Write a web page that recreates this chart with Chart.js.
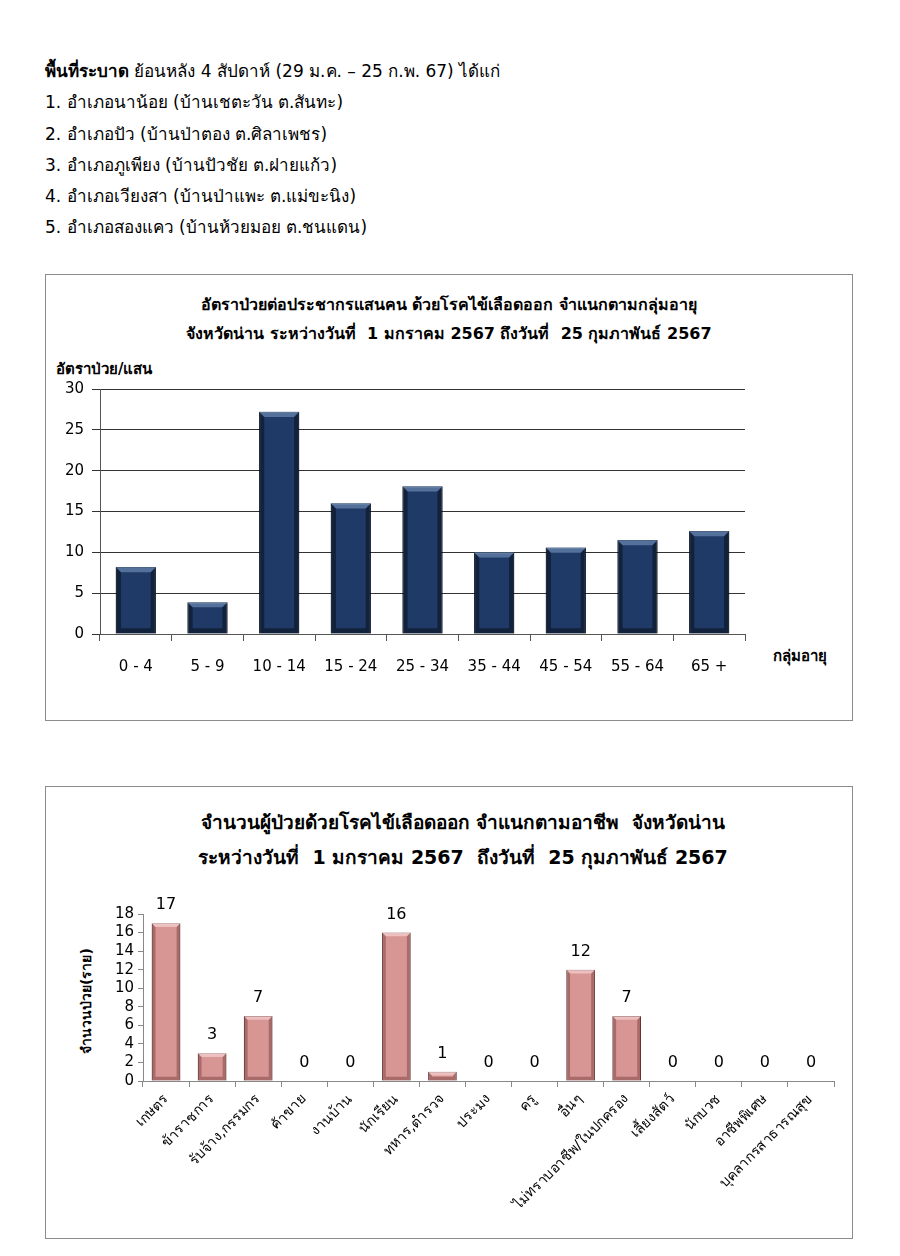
<!DOCTYPE html>
<html>
<head>
<meta charset="utf-8">
<script src="https://cdn.jsdelivr.net/npm/chart.js@4/dist/chart.umd.min.js"></script>
<style>
  body { margin: 0; background: #fff; font-family: Tahoma, "DejaVu Sans", sans-serif; color: #000; }
  .page { position: relative; width: 900px; height: 1256px; }
  .intro { position: absolute; left: 45px; top: 56px; font-size: 17px; line-height: 31.3px; }
  .box { position: absolute; left: 45px; width: 806px; border: 1px solid #8c8c8c; }
  .title { position: absolute; left: 0; width: 100%; text-align: center; font-weight: bold; }
  .lbl { position: absolute; font-weight: bold; white-space: nowrap; }
  canvas { position: absolute; }
</style>
</head>
<body>
<div class="page">
  <div class="intro">
    <div><b>พื้นที่ระบาด</b> ย้อนหลัง 4 สัปดาห์ (29 ม.ค. – 25 ก.พ. 67) ได้แก่</div>
    <div>1. อำเภอนาน้อย (บ้านเชตะวัน ต.สันทะ)</div>
    <div>2. อำเภอปัว (บ้านป่าตอง ต.ศิลาเพชร)</div>
    <div>3. อำเภอภูเพียง (บ้านปัวชัย ต.ฝายแก้ว)</div>
    <div>4. อำเภอเวียงสา (บ้านป่าแพะ ต.แม่ขะนิง)</div>
    <div>5. อำเภอสองแคว (บ้านห้วยมอย ต.ชนแดน)</div>
  </div>

  <div class="box" style="top:274px;height:445px;">
    <div class="title" style="top:15px;font-size:16px;line-height:29px;">
      อัตราป่วยต่อประชากรแสนคน ด้วยโรคไข้เลือดออก จำแนกตามกลุ่มอายุ<br>
      จังหวัดน่าน ระหว่างวันที่&nbsp; 1 มกราคม 2567 ถึงวันที่&nbsp; 25 กุมภาพันธ์ 2567
    </div>
    <div class="lbl" style="left:10px;top:82px;font-size:15px;">อัตราป่วย/แสน</div>
    <div class="lbl" style="left:727px;top:369px;font-size:15px;">กลุ่มอายุ</div>
    <canvas id="ageChart" style="left:0;top:97px;width:805px;height:306px;" width="805" height="306"></canvas>
  </div>

  <div class="box" style="top:786px;height:451px;">
    <div class="title" style="top:18px;font-size:19px;line-height:35px;left:14px;">
      จำนวนผู้ป่วยด้วยโรคไข้เลือดออก จำแนกตามอาชีพ&nbsp; จังหวัดน่าน<br>
      ระหว่างวันที่&nbsp; 1 มกราคม 2567&nbsp; ถึงวันที่&nbsp; 25 กุมภาพันธ์ 2567
    </div>
    <div class="lbl" style="left:40px;top:214px;font-size:14px;transform:translate(-50%,-50%) rotate(-90deg);">จำนวนป่วย(ราย)</div>
    <canvas id="jobChart" style="left:0;top:93px;width:805px;height:356px;" width="805" height="356"></canvas>
  </div>
</div>

<script>
// Chart 1: rate per 100,000 by age group
const ageGroups = ['0 - 4', '5 - 9', '10 - 14', '15 - 24', '25 - 34', '35 - 44', '45 - 54', '55 - 64', '65 +'];
const ageRates = [8.2, 3.9, 27.2, 16.0, 18.1, 10.0, 10.6, 11.5, 12.6];

// Chart 2: cases by occupation
const jobs = ['เกษตร', 'ข้าราชการ', 'รับจ้าง,กรรมกร', 'ค้าขาย', 'งานบ้าน', 'นักเรียน', 'ทหาร,ตำรวจ', 'ประมง', 'ครู', 'อื่นๆ',
              'ไม่ทราบอาชีพ/ในปกครอง', 'เลี้ยงสัตว์', 'นักบวช', 'อาชีพพิเศษ', 'บุคลากรสาธารณสุข'];
const jobCases = [17, 3, 7, 0, 0, 16, 1, 0, 0, 12, 7, 0, 0, 0, 0];

const FONT = 'Tahoma, "DejaVu Sans", sans-serif';

// bevel look for bars, drawn over each bar element
function bevelPlugin(light, dark) {
    return {
        id: 'bevel',
        afterDatasetsDraw(chart) {
            const ctx = chart.ctx;
            chart.getDatasetMeta(0).data.forEach(bar => {
                const l = bar.x - bar.width / 2, r = bar.x + bar.width / 2;
                const t = bar.y, b = bar.base;
                const h = b - t;
                if (h <= 0) return;
                const e = Math.min(bar.width * 0.13, h / 2);
                ctx.save();
                // left / right shade
                ctx.fillStyle = dark;
                ctx.beginPath();
                ctx.moveTo(l, t); ctx.lineTo(l + e, t + e); ctx.lineTo(l + e, b - e); ctx.lineTo(l, b); ctx.closePath(); ctx.fill();
                ctx.beginPath();
                ctx.moveTo(r, t); ctx.lineTo(r - e, t + e); ctx.lineTo(r - e, b - e); ctx.lineTo(r, b); ctx.closePath(); ctx.fill();
                // bottom shade
                ctx.beginPath();
                ctx.moveTo(l, b); ctx.lineTo(l + e, b - e); ctx.lineTo(r - e, b - e); ctx.lineTo(r, b); ctx.closePath(); ctx.fill();
                // top highlight
                ctx.fillStyle = light;
                ctx.beginPath();
                ctx.moveTo(l, t); ctx.lineTo(r, t); ctx.lineTo(r - e, t + e); ctx.lineTo(l + e, t + e); ctx.closePath(); ctx.fill();
                ctx.restore();
            });
        }
    };
}

// value labels above bars
const valueLabels = {
    id: 'valueLabels',
    afterDatasetsDraw(chart) {
        const ctx = chart.ctx;
        const ds = chart.data.datasets[0];
        ctx.save();
        ctx.font = '16px ' + FONT;
        ctx.fillStyle = '#000';
        ctx.textAlign = 'center';
        ctx.textBaseline = 'bottom';
        chart.getDatasetMeta(0).data.forEach((bar, i) => {
            ctx.fillText(ds.data[i], bar.x, bar.y - 10);
        });
        ctx.restore();
    }
};

new Chart(document.getElementById('ageChart'), {
    type: 'bar',
    data: {
        labels: ageGroups,
        datasets: [{
            data: ageRates,
            backgroundColor: '#1f3a66',
            borderColor: '#0c1a33',
            borderWidth: 1,
            barPercentage: 0.56,
            categoryPercentage: 1
        }]
    },
    options: {
        responsive: false,
        animation: false,
        layout: { padding: { top: 6, right: 106, left: 0, bottom: 0 } },
        plugins: { legend: { display: false }, tooltip: { enabled: false } },
        scales: {
            x: {
                afterFit: s => { s.height = 44; },
                grid: { display: true, drawOnChartArea: false, drawTicks: true, tickLength: 7, color: '#555', offset: true },
                border: { color: '#555' },
                ticks: { color: '#000', font: { family: FONT, size: 15 }, padding: 17, maxRotation: 0 }
            },
            y: {
                min: 0, max: 30,
                afterFit: s => { s.width = 54; },
                grid: { color: '#333', tickLength: 8 },
                border: { color: '#555' },
                ticks: { stepSize: 5, color: '#000', font: { family: FONT, size: 15 }, padding: 8 }
            }
        }
    },
    plugins: [bevelPlugin('rgba(120,150,190,0.6)', 'rgba(0,0,0,0.4)')]
});

new Chart(document.getElementById('jobChart'), {
    type: 'bar',
    data: {
        labels: jobs,
        datasets: [{
            data: jobCases,
            backgroundColor: '#d79593',
            borderColor: '#6e3f3e',
            borderWidth: 1,
            barPercentage: 0.62,
            categoryPercentage: 1
        }]
    },
    options: {
        responsive: false,
        animation: false,
        layout: { padding: { top: 34, right: 17, left: 0, bottom: 0 } },
        plugins: { legend: { display: false }, tooltip: { enabled: false } },
        scales: {
            x: {
                afterFit: s => { s.height = 155; },
                grid: { display: true, drawOnChartArea: false, drawTicks: true, tickLength: 6, color: '#888', offset: true },
                border: { color: '#888' },
                ticks: { color: '#000', font: { family: FONT, size: 14 }, padding: 4, minRotation: 45, maxRotation: 45, autoSkip: false }
            },
            y: {
                min: 0, max: 18,
                afterFit: s => { s.width = 97; },
                grid: { display: true, drawOnChartArea: false, drawTicks: true, tickLength: 5, color: '#888' },
                border: { color: '#888' },
                ticks: { stepSize: 2, autoSkip: false, color: '#000', font: { family: FONT, size: 15 }, padding: 4 }
            }
        }
    },
    plugins: [bevelPlugin('rgba(255,225,225,0.55)', 'rgba(80,30,30,0.35)'), valueLabels]
});
</script>
</body>
</html>
